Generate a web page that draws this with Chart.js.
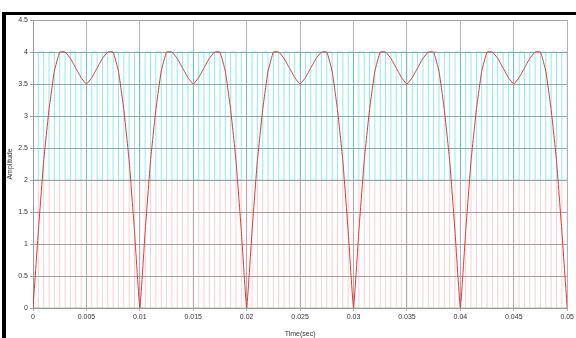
<!DOCTYPE html>
<html>
<head>
<meta charset="utf-8">
<script src="https://cdn.jsdelivr.net/npm/chart.js@4/dist/chart.umd.min.js"></script>
<style>
    html, body { margin: 0; padding: 0; background: #fff; }
    #wrap { position: relative; width: 576px; height: 338px; overflow: hidden; }
    #plot { position: absolute; left: 0; top: 0; }
    .edge { position: absolute; background: #000; }
</style>
</head>
<body>
<div id="wrap">
    <canvas id="plot" width="576" height="338"></canvas>
    <div class="edge" style="left:2px; top:12px; width:574px; height:3px;"></div>
    <div class="edge" style="left:2px; top:12px; width:4px; height:326px;"></div>
</div>
<script>
// sample times (s)
const times = [
    0, 0.0005, 0.001, 0.0015, 0.002, 0.0025, 0.003, 0.0035, 0.004, 0.0045,
    0.005, 0.0055, 0.006, 0.0065, 0.007, 0.0075, 0.008, 0.0085, 0.009, 0.0095,
    0.01, 0.0105, 0.011, 0.0115, 0.012, 0.0125, 0.013, 0.0135, 0.014, 0.0145,
    0.015, 0.0155, 0.016, 0.0165, 0.017, 0.0175, 0.018, 0.0185, 0.019, 0.0195,
    0.02, 0.0205, 0.021, 0.0215, 0.022, 0.0225, 0.023, 0.0235, 0.024, 0.0245,
    0.025, 0.0255, 0.026, 0.0265, 0.027, 0.0275, 0.028, 0.0285, 0.029, 0.0295,
    0.03, 0.0305, 0.031, 0.0315, 0.032, 0.0325, 0.033, 0.0335, 0.034, 0.0345,
    0.035, 0.0355, 0.036, 0.0365, 0.037, 0.0375, 0.038, 0.0385, 0.039, 0.0395,
    0.04, 0.0405, 0.041, 0.0415, 0.042, 0.0425, 0.043, 0.0435, 0.044, 0.0445,
    0.045, 0.0455, 0.046, 0.0465, 0.047, 0.0475, 0.048, 0.0485, 0.049, 0.0495,
    0.05
];

// rectified reference signal (red)
const reference = [
    0, 1.2, 2.3, 3.1, 3.7, 4.0, 4.0, 3.9, 3.75, 3.6,
    3.5, 3.6, 3.75, 3.9, 4.0, 4.0, 3.7, 3.1, 2.3, 1.2,
    0, 1.2, 2.3, 3.1, 3.7, 4.0, 4.0, 3.9, 3.75, 3.6,
    3.5, 3.6, 3.75, 3.9, 4.0, 4.0, 3.7, 3.1, 2.3, 1.2,
    0, 1.2, 2.3, 3.1, 3.7, 4.0, 4.0, 3.9, 3.75, 3.6,
    3.5, 3.6, 3.75, 3.9, 4.0, 4.0, 3.7, 3.1, 2.3, 1.2,
    0, 1.2, 2.3, 3.1, 3.7, 4.0, 4.0, 3.9, 3.75, 3.6,
    3.5, 3.6, 3.75, 3.9, 4.0, 4.0, 3.7, 3.1, 2.3, 1.2,
    0, 1.2, 2.3, 3.1, 3.7, 4.0, 4.0, 3.9, 3.75, 3.6,
    3.5, 3.6, 3.75, 3.9, 4.0, 4.0, 3.7, 3.1, 2.3, 1.2,
    0
];

// upper carrier (cyan), between 2 and 4
const carrierUpper = [
    2, 4, 2, 4, 2, 4, 2, 4, 2, 4, 2, 4, 2, 4, 2, 4, 2, 4, 2, 4,
    2, 4, 2, 4, 2, 4, 2, 4, 2, 4, 2, 4, 2, 4, 2, 4, 2, 4, 2, 4,
    2, 4, 2, 4, 2, 4, 2, 4, 2, 4, 2, 4, 2, 4, 2, 4, 2, 4, 2, 4,
    2, 4, 2, 4, 2, 4, 2, 4, 2, 4, 2, 4, 2, 4, 2, 4, 2, 4, 2, 4,
    2, 4, 2, 4, 2, 4, 2, 4, 2, 4, 2, 4, 2, 4, 2, 4, 2, 4, 2, 4,
    2
];

// lower carrier (pink), between 0 and 2
const carrierLower = [
    0, 2, 0, 2, 0, 2, 0, 2, 0, 2, 0, 2, 0, 2, 0, 2, 0, 2, 0, 2,
    0, 2, 0, 2, 0, 2, 0, 2, 0, 2, 0, 2, 0, 2, 0, 2, 0, 2, 0, 2,
    0, 2, 0, 2, 0, 2, 0, 2, 0, 2, 0, 2, 0, 2, 0, 2, 0, 2, 0, 2,
    0, 2, 0, 2, 0, 2, 0, 2, 0, 2, 0, 2, 0, 2, 0, 2, 0, 2, 0, 2,
    0, 2, 0, 2, 0, 2, 0, 2, 0, 2, 0, 2, 0, 2, 0, 2, 0, 2, 0, 2,
    0
];

// zero level (green)
const zeroTimes = [0, 0.05];
const zeroLevel = [0, 0];

const xTicks = [0, 0.005, 0.01, 0.015, 0.02, 0.025, 0.03, 0.035, 0.04, 0.045, 0.05];
const xTickLabels = ["0", "0.005", "0.01", "0.015", "0.02", "0.025", "0.03", "0.035", "0.04", "0.045", "0.05"];
const yTicks = [0, 0.5, 1, 1.5, 2, 2.5, 3, 3.5, 4, 4.5];
const yTickLabels = ["0", "0.5", "1", "1.5", "2", "2.5", "3", "3.5", "4", "4.5"];

function pairs(xs, ys) {
    return xs.map((x, i) => ({ x: x, y: ys[i] }));
}

const tickFont = { family: "Liberation Sans", size: 7 };

new Chart(document.getElementById("plot").getContext("2d"), {
    type: "line",
    data: {
        datasets: [
            {
                label: "reference",
                data: pairs(times, reference),
                borderColor: "#dc3a3a",
                borderWidth: 1,
                pointRadius: 0,
                tension: 0.1,
                order: 0
            },
            {
                label: "zero",
                data: pairs(zeroTimes, zeroLevel),
                borderColor: "#9be09b",
                borderWidth: 1,
                pointRadius: 0,
                order: 1
            },
            {
                label: "carrier upper",
                data: pairs(times, carrierUpper),
                borderColor: "rgba(0, 215, 215, 0.45)",
                borderWidth: 1,
                pointRadius: 0,
                stepped: true,
                order: 2
            },
            {
                label: "carrier lower",
                data: pairs(times, carrierLower),
                borderColor: "rgba(245, 130, 130, 0.38)",
                borderWidth: 1,
                pointRadius: 0,
                stepped: true,
                order: 3
            }
        ]
    },
    options: {
        responsive: false,
        animation: false,
        devicePixelRatio: 1,
        layout: { padding: { left: 6, right: 8, top: 20, bottom: 0 } },
        plugins: {
            legend: { display: false },
            tooltip: { enabled: false }
        },
        scales: {
            x: {
                type: "linear",
                min: 0,
                max: 0.05,
                afterBuildTicks: function (scale) {
                    scale.ticks = xTicks.map(v => ({ value: v }));
                },
                afterFit: function (scale) { scale.height = 30; },
                ticks: {
                    font: tickFont,
                    color: "#333",
                    padding: 2,
                    maxRotation: 0,
                    autoSkip: false,
                    callback: function (value, index) { return xTickLabels[index]; }
                },
                grid: { color: "#b4b4b4", tickLength: 3, lineWidth: 1 },
                border: { color: "#9a9a9a" },
                title: {
                    display: true,
                    text: "Time(sec)",
                    font: tickFont,
                    color: "#333",
                    padding: { top: 1, bottom: 0 }
                }
            },
            y: {
                min: 0,
                max: 4.5,
                afterBuildTicks: function (scale) {
                    scale.ticks = yTicks.map(v => ({ value: v }));
                },
                afterFit: function (scale) { scale.width = 27; },
                ticks: {
                    font: tickFont,
                    color: "#333",
                    padding: 2,
                    autoSkip: false,
                    callback: function (value, index) { return yTickLabels[index]; }
                },
                grid: { color: "#9aa4a4", tickLength: 3, lineWidth: 1 },
                border: { color: "#9a9a9a" },
                title: {
                    display: true,
                    text: "Amplitude",
                    font: tickFont,
                    color: "#333",
                    padding: { top: 0, bottom: 2 }
                }
            }
        }
    }
});
</script>
</body>
</html>
